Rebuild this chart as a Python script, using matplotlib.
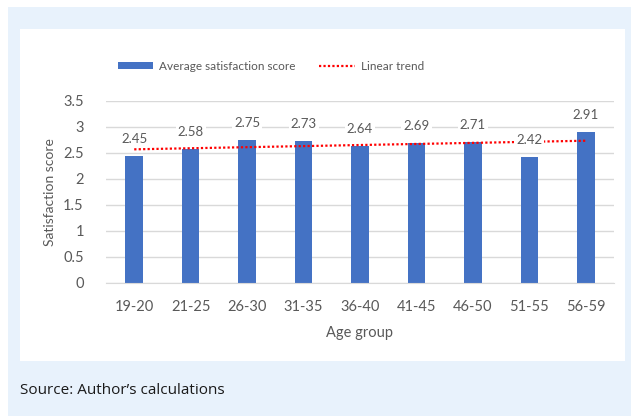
import matplotlib
matplotlib.use("Agg")
import matplotlib.pyplot as plt
import numpy as np
from matplotlib.patches import Rectangle, Patch
from matplotlib.lines import Line2D

categories = ["19-20", "21-25", "26-30", "31-35", "36-40", "41-45", "46-50", "51-55", "56-59"]
scores = [2.45, 2.58, 2.75, 2.73, 2.64, 2.69, 2.71, 2.42, 2.91]
y_ticks = [0, 0.5, 1, 1.5, 2, 2.5, 3, 3.5]
y_tick_labels = ["0", "0.5", "1", "1.5", "2", "2.5", "3", "3.5"]

W, H = 631, 416
fig = plt.figure(figsize=(W / 100, H / 100), dpi=100)
fig.patch.set_facecolor("white")
plt.rcParams["font.family"] = ["Lato", "DejaVu Sans"]

# light blue panel and white chart area
fig.add_artist(Rectangle((8 / W, 0), (W - 8) / W, (H - 7) / H, transform=fig.transFigure,
                         facecolor="#E8F2FC", edgecolor="none", zorder=0))
fig.add_artist(Rectangle((20 / W, (H - 361) / H), (625 - 20) / W, (361 - 29) / H,
                         transform=fig.transFigure, facecolor="white", edgecolor="none", zorder=0))

ax = fig.add_axes([106 / W, (H - 283) / H, (614 - 106) / W, (283 - 101) / H])
ax.set_facecolor("none")
x = np.arange(len(categories))
bar_color = "#4472C4"
ax.bar(x, scores, width=0.31, color=bar_color, zorder=2)

# linear trend fitted on the data
coef = np.polyfit(x, scores, 1)
trend = np.polyval(coef, x)
ax.plot(x, trend, color="#FF0000", linestyle=(0, (1, 1)), lw=1.6, zorder=3)

txt_color = "#595959"
for xi, v in zip(x, scores):
    ax.annotate(f"{v:.2f}", (xi, v), xytext=(0, 12), textcoords="offset points",
                ha="center", va="center", fontsize=9.5, color=txt_color, zorder=5,
                bbox=dict(boxstyle="square,pad=0.15", facecolor="white", edgecolor="none"))

ax.set_xlim(-0.5, len(categories) - 0.5)
ax.set_ylim(0, 3.5)
ax.set_yticks(y_ticks)
ax.set_yticklabels(y_tick_labels)
ax.set_xticks(x)
ax.set_xticklabels(categories)
ax.yaxis.grid(True, color="#D9D9D9", lw=1, zorder=0)
ax.set_axisbelow(True)
for s in ["top", "right", "left"]:
    ax.spines[s].set_visible(False)
ax.spines["bottom"].set_color("#D9D9D9")
ax.tick_params(axis="both", length=0, colors=txt_color, labelsize=10.5)
ax.tick_params(axis="y", pad=16)
ax.tick_params(axis="x", pad=12)
ax.set_ylabel("Satisfaction score", fontsize=10, color=txt_color, labelpad=5)
ax.set_xlabel("Age group", fontsize=10.5, color=txt_color, labelpad=9)

handles = [Patch(facecolor=bar_color, edgecolor="none"),
           Line2D([], [], color="#FF0000", linestyle=(0, (1, 1)), lw=1.6)]
fig.legend(handles, ["Average satisfaction score", "Linear trend"], loc="center",
           bbox_to_anchor=(271 / W, 1 - 66 / H), ncol=2, frameon=False, fontsize=8.5,
           labelcolor=txt_color, handlelength=3.0, handleheight=0.6, columnspacing=2.0,
           handletextpad=0.5)

fig.text(20 / W, 1 - 390 / H, "Source: Author\u2019s calculations", fontsize=11,
         color="#1A1A1A", ha="left", va="center", family=["Open Sans", "DejaVu Sans"])

fig.savefig("out.png", dpi=100)
